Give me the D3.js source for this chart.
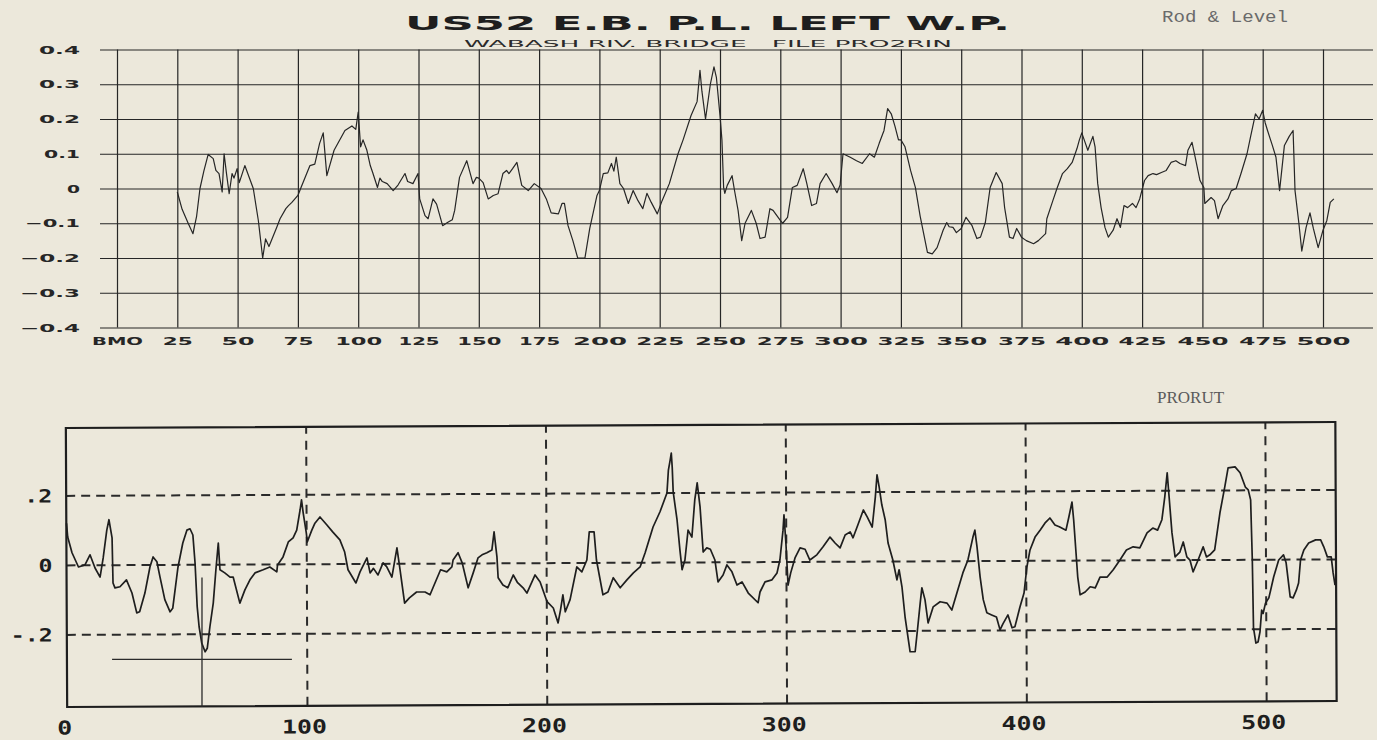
<!DOCTYPE html>
<html><head><meta charset="utf-8">
<script src="https://cdn.jsdelivr.net/npm/d3@7"></script>
<style>
html,body{margin:0;padding:0;background:#ece8db;}
svg{display:block;}
</style></head><body>
<svg id="c" width="1377" height="740"></svg>
<script>
// ---------- DATA ----------
const titleText = "US52 E.B. P.L. LEFT W.P.";
const subtitleText = "WABASH RIV. BRIDGE   FILE PRO2RIN";
const topSeriesName = "Rod & Level";
const botSeriesName = "PRORUT";

const topTicksX = [0,25,50,75,100,125,150,175,200,225,250,275,300,325,350,375,400,425,450,475,500];
const topTickLabelsX = ["BMO","25","50","75","100","125","150","175","200","225","250","275","300","325","350","375","400","425","450","475","500"];
const topTicksY = [0.4,0.3,0.2,0.1,0,-0.1,-0.2,-0.3,-0.4];
const topTickLabelsY = ["0.4","0.3","0.2","0.1","0","\u22120.1","\u22120.2","\u22120.3","\u22120.4"];

const botTicksX = [0,100,200,300,400,500];
const botTickLabelsX = ["0","100","200","300","400","500"];
const botTicksY = [0.2,0,-0.2];
const botTickLabelsY = [".2","0","-.2"];

// Rod & Level profile: [station, elevation]
const rodLevel = [
[25,-0.01],[27,-0.06],[29.5,-0.1],[31.5,-0.13],[33,-0.08],[34.4,0],[36,0.05],[37.8,0.098],[39.9,0.086],[41,0.052],[42.3,0.043],[43.6,-0.01],[44.4,0.1],[45.4,0.043],[46.5,-0.015],[47.7,0.043],[48.5,0.03],[49.8,0.057],[50.7,0.017],[53,0.066],[56.5,0],[58.6,-0.092],[60.4,-0.2],[61.6,-0.145],[63,-0.167],[66.2,-0.112],[67.6,-0.087],[70,-0.058],[71,-0.05],[72.5,-0.04],[75,-0.02],[76.3,0.003],[80,0.066],[82,0.07],[84,0.13],[85.5,0.16],[87,0.037],[90,0.11],[94.5,0.167],[97.4,0.18],[99,0.17],[100,0.22],[101,0.12],[102,0.14],[103.6,0.11],[105,0.066],[106,0.046],[108,0.003],[109,0.03],[110,0.02],[112,0.014],[114.5,-0.006],[116.5,0.01],[119.4,0.043],[120.5,0.02],[122.7,0.014],[124.8,0.043],[125.5,-0.03],[127.7,-0.078],[129,-0.087],[131,-0.03],[132.5,-0.045],[135,-0.107],[137,-0.098],[139,-0.09],[140,-0.063],[142,0.032],[145,0.08],[147.6,0.014],[149,0.032],[150,0.03],[151.8,0.017],[153.9,-0.03],[156,-0.02],[158,-0.015],[160,0.043],[161.5,0.052],[162.5,0.043],[164,0.057],[165.8,0.075],[167.8,0.009],[170.5,-0.006],[173,0.014],
[175.8,0],[178,-0.03],[180,-0.07],[183,-0.073],[184.5,-0.043],[185.5,-0.043],[187,-0.107],[189,-0.15],[191,-0.2],[194,-0.2],[196,-0.115],[199,-0.02],[200,-0.006],[201.6,0.043],[203.5,0.045],[205,0.072],[206,0.05],[207,0.09],[208.5,0.014],[210,0],[212,-0.043],[214,-0.006],[216,-0.035],[218,-0.058],[219.7,-0.014],[221.5,-0.04],[224,-0.073],[226,-0.035],[229,0.014],[232.6,0.1],[234.7,0.14],[238,0.21],[240.5,0.25],[241.7,0.34],[242.5,0.28],[244,0.2],[246,0.3],[247.5,0.35],[248.5,0.32],[250,0.21],[250.8,0.14],[251.5,0.003],[252,-0.014],[253,0.009],[255,0.037],[256,-0.005],[257.5,-0.063],[259,-0.15],[260.4,-0.1],[263,-0.063],[265,-0.1],[266.6,-0.144],[268.7,-0.14],[270.7,-0.058],[272,-0.063],[275,-0.092],[276,-0.1],[278,-0.083],[280,0.003],[282,0.009],[284.5,0.057],[286,0.014],[288,-0.049],[290,-0.043],[291.5,0.014],[294,0.043],[296.5,0.014],[298.5,-0.012],[299.8,0.01],[301,0.1],[304,0.09],[306.6,0.08],[309,0.072],[312,0.1],[314,0.09],[316,0.13],[318,0.167],[319.5,0.23],[321,0.215],[322.5,0.18],[324,0.14],[325,0.14],[326.7,0.12],[329,0.052],[331,0.003],[333,-0.08],[336,-0.184],[338,-0.188],[340,-0.17],[342.5,-0.12],[344,-0.098],[345,-0.11],[346.6,-0.112],[348,-0.127],[350,-0.115],[352,-0.083],[354.5,-0.107],[356.5,-0.144],[358,-0.14],[360,-0.098],[362,0.003],[364.5,0.046],[367,0.014],[368,-0.055],[370,-0.14],[371.5,-0.144],[373,-0.115],[375,-0.14],[377,-0.15],[380,-0.159],[382,-0.15],[385,-0.13],[385.5,-0.087],[388,-0.035],[389.7,0],[392,0.043],[394,0.057],[396,0.075],[398,0.115],[399,0.14],[400,0.16],[401,0.14],[402.5,0.11],[404.6,0.15],[405.5,0.12],[406.6,0.014],[408,-0.055],[409.6,-0.112],[411,-0.14],[413,-0.12],[414.6,-0.087],[416,-0.112],[417.5,-0.049],[419,-0.055],[421,-0.043],[422.5,-0.055],[424,-0.03],[426,0.023],[427.5,0.037],[429.5,0.043],[431,0.04],[433,0.046],[435,0.052],[437,0.075],[439,0.08],[440.7,0.072],[443,0.066],[444,0.11],[445.7,0.133],[447,0.09],[449,0.023],[450.6,0.003],[451,-0.043],[453.6,-0.026],[455,-0.035],[456.5,-0.087],[458.5,-0.049],[460.6,-0.03],[462,-0.006],[464,0],[466,0.043],[468.5,0.1],[470,0.15],[472,0.215],[473.5,0.2],[475,0.225],[476,0.19],[477,0.167],[479,0.124],[480.5,0.09],[482,-0.006],[484,0.124],[486,0.15],[487.6,0.167],[488.4,-0.006],[490,-0.1],[491.2,-0.18],[493,-0.112],[494.6,-0.07],[496,-0.115],[498,-0.17],[500,-0.12],[501.6,-0.092],[503,-0.04],[504.5,-0.03]
];

// PRORUT profile: [distance, elevation]
const prorut = [
[0,0.12],[0.5,0.08],[2.3,0.035],[5,-0.006],[7.7,0],[9.8,0.029],[11.9,-0.009],[14,-0.035],[15.3,0.02],[16.8,0.1],[17.7,0.13],[19,0.078],[19.4,-0.052],[20.2,-0.066],[22.3,-0.063],[25,-0.043],[27.3,-0.081],[29.3,-0.138],[30.5,-0.135],[32.7,-0.081],[34.8,-0.006],[36.1,0.023],[37.7,0.009],[39,-0.035],[41,-0.1],[43.2,-0.135],[44.3,-0.125],[46.5,-0.006],[48.5,0.063],[50.2,0.1],[51.5,0.104],[52.7,0.086],[53.6,0.006],[54.5,-0.12],[55.3,-0.178],[56.4,-0.225],[57.8,-0.25],[58.7,-0.24],[59.8,-0.178],[61.2,-0.11],[62.3,-0.014],[63.3,0.063],[64,-0.014],[66,-0.023],[68.2,-0.035],[69.5,-0.035],[72.3,-0.11],[74.4,-0.072],[76.5,-0.043],[78.6,-0.023],[82,-0.014],[84.8,-0.006],[87.7,-0.02],[88,0],[90.3,0.023],[92.5,0.066],[94.5,0.078],[96,0.1],[97.4,0.158],[98,0.187],[98.7,0.15],[100,0.092],[100.4,0.066],[102.3,0.1],[103.6,0.12],[105.7,0.138],[108.6,0.115],[111,0.095],[114,0.072],[116,0.037],[117.4,-0.014],[120.7,-0.052],[122.4,-0.02],[125.3,0.02],[126.6,-0.023],[128,-0.01],[129.9,-0.029],[132,0.006],[133.5,-0.005],[135.7,-0.035],[137.8,0.049],[139,-0.009],[141,-0.11],[143,-0.095],[146,-0.078],[149.5,-0.078],[151.6,-0.086],[153,-0.063],[156,-0.014],[158.6,-0.02],[160.7,-0.006],[161.2,0.014],[163.3,0.035],[165,0.006],[167.5,-0.066],[169.6,-0.023],[171.6,0.02],[173.3,0.029],[175.3,0.035],[177.4,0.043],[178.3,0.095],[179.5,0.023],[180,-0.037],[182,-0.058],[184,-0.066],[186.3,-0.029],[188,-0.05],[190.4,-0.066],[192,-0.081],[195.4,-0.029],[197.5,-0.049],[200.4,-0.106],[203,-0.124],[205,-0.167],[206,-0.13],[207,-0.086],[208,-0.135],[210,-0.1],[212.8,-0.006],[214.9,-0.02],[217,0.014],[218,0.095],[220,0.095],[221,0.014],[223.7,-0.086],[225.8,-0.078],[228,-0.037],[230.9,-0.066],[233.7,-0.043],[236.4,-0.023],[239.2,-0.006],[241.3,0.035],[244.6,0.109],[247.5,0.153],[250.4,0.207],[251,0.273],[251.7,0.3],[252.2,0.322],[252.6,0.28],[253,0.21],[254.6,0.13],[255.8,0.043],[256.7,-0.014],[257.9,0.014],[259.2,0.1],[260.8,0.08],[262,0.187],[263,0.236],[264.2,0.167],[265.5,0.037],[267,0.049],[268.5,0.045],[270.4,0.014],[271.7,-0.049],[273.8,-0.029],[275.4,0],[277.5,-0.02],[279.6,-0.058],[281.7,-0.049],[284.3,-0.081],[288.4,-0.109],[289.2,-0.078],[291.3,-0.049],[294.2,-0.043],[296.3,-0.023],[297.5,0.014],[298.8,0.1],[299.2,0.144],[300,0.063],[300.9,-0.058],[302,-0.023],[303.8,0.02],[305.9,0.049],[308,0.045],[310,0.014],[312.9,0.029],[315.5,0.052],[318.4,0.08],[320.5,0.063],[322.6,0.049],[324.7,0.086],[326.8,0.095],[328,0.078],[330,0.115],[332.3,0.158],[333.9,0.138],[336,0.109],[337.3,0.196],[338,0.259],[338.9,0.224],[340,0.173],[341.4,0.13],[342.6,0.063],[344.6,0.014],[346.3,-0.043],[347.2,-0.014],[348.4,-0.063],[349.7,-0.15],[351.8,-0.25],[353.9,-0.25],[355,-0.178],[356,-0.11],[356.7,-0.066],[358,-0.1],[359.3,-0.167],[361.4,-0.121],[364.3,-0.106],[367.2,-0.11],[369.2,-0.13],[371.3,-0.081],[373.8,-0.023],[375.9,0.014],[378,0.08],[378.8,0.1],[379.7,0.052],[381,-0.035],[382.3,-0.1],[383.8,-0.138],[385.8,-0.144],[387.8,-0.15],[389.3,-0.187],[390.5,-0.17],[392.6,-0.144],[394.3,-0.181],[395.5,-0.178],[397.6,-0.121],[399.3,-0.081],[400.5,-0.006],[401.8,0.043],[403.9,0.08],[406,0.1],[408,0.12],[410.1,0.135],[412.2,0.115],[414,0.11],[416.8,0.1],[418,0.138],[419.3,0.181],[420,0.13],[420.9,0.043],[421.7,-0.035],[422.7,-0.086],[424.8,-0.078],[426.9,-0.063],[429,-0.066],[431,-0.035],[434,-0.035],[436.5,-0.014],[439.3,0.014],[442,0.043],[444.8,0.052],[447.6,0.049],[450.6,0.092],[453,0.106],[455,0.1],[456.8,0.13],[458,0.196],[459,0.265],[459.8,0.196],[461,0.092],[462.3,0.023],[464.3,0.037],[465.7,0.066],[467.2,0.023],[468.5,0.014],[469.8,-0.02],[471.9,0.014],[474,0.052],[475.4,0.023],[476.8,0.029],[478.8,0.043],[481,0.15],[483,0.224],[484.4,0.279],[487.3,0.282],[489.4,0.265],[491.6,0.224],[492.8,0.216],[493.8,0.187],[494.5,0.014],[495,-0.181],[496,-0.225],[496.9,-0.222],[497.7,-0.193],[498.4,-0.13],[499,-0.14],[500,-0.11],[501.4,-0.095],[503.4,-0.035],[505.5,0.014],[507.5,0.029],[508.6,0.006],[510.3,-0.092],[511.5,-0.095],[512.9,-0.072],[513.8,-0.052],[514.6,0.014],[516,0.043],[518,0.063],[520.9,0.072],[523,0.072],[524.3,0.052],[525.8,0.023],[527.4,0.023],[528.2,-0.023],[529,-0.058]
];

// cursor crosshair in the PRORUT plot
const cursorX = 56.5, cursorY = -0.272;
const cursorSpanX = [19, 94];
const cursorTopY = -0.036;

// ---------- DRAW ----------
const svg = d3.select("#c");
const INK = "#262626";

// plotter-style text width estimator
function plotW(s, opt){
  let w = 0;
  for (const ch of s){
    if (ch === "1") w += opt.one;
    else if (ch === ".") w += 3;
    else if (ch === "0" || ch==="O") w += opt.zero;
    else if (ch === "\u2212") w += 11;
    else w += opt.digit;
  }
  return w + opt.gap * (s.length - 1);
}

// ===== TOP CHART =====
const xT = d3.scaleLinear().domain([0,500]).range([117,1323]);
const yT = d3.scaleLinear().domain([-0.4,0.4]).range([327.5,49.5]);
const gT = svg.append("g");

// horizontal grid + y labels
const axYT = gT.append("g").attr("transform","translate(100,0)")
  .call(d3.axisLeft(yT).tickValues(topTicksY).tickSize(-(1373-100)).tickPadding(20)
        .tickFormat((d,i)=>topTickLabelsY[i]));
axYT.select(".domain").remove();
axYT.selectAll("line").attr("stroke",INK).attr("stroke-width",1.2);
axYT.selectAll("text")
  .attr("font-family","DejaVu Sans").attr("font-weight","bold").attr("font-size",10)
  .attr("fill",INK).attr("dy","0.36em")
  .attr("lengthAdjust","spacingAndGlyphs")
  .attr("textLength", d => plotW(topTickLabelsY[topTicksY.indexOf(d)], {one:4, zero:13, digit:9, gap:8}));

// vertical grid + x labels
const axXT = gT.append("g").attr("transform",`translate(0,${yT(-0.4)})`)
  .call(d3.axisBottom(xT).tickValues(topTicksX).tickSize(-(yT(-0.4)-yT(0.4))).tickPadding(10)
        .tickFormat((d,i)=>topTickLabelsX[i]));
axXT.select(".domain").remove();
axXT.selectAll("line").attr("stroke",INK).attr("stroke-width",1.2);
axXT.selectAll("text")
  .attr("font-family","DejaVu Sans").attr("font-weight","bold").attr("font-size",10)
  .attr("fill",INK).attr("dy","0.75em")
  .attr("lengthAdjust","spacingAndGlyphs")
  .attr("textLength", d => plotW(topTickLabelsX[topTicksX.indexOf(d)], {one:5, zero:15, digit:12, gap:6}));

// data line
gT.append("path").datum(rodLevel)
  .attr("fill","none").attr("stroke",INK).attr("stroke-width",1.2).attr("stroke-linejoin","round")
  .attr("d", d3.line().x(d=>xT(d[0])).y(d=>yT(d[1])));

// titles
svg.append("text").attr("x",405).attr("y",30).text(titleText)
  .attr("font-family","DejaVu Sans").attr("font-weight","bold").attr("font-size",19)
  .attr("fill","#1e1e1e").attr("textLength",605).attr("lengthAdjust","spacingAndGlyphs");
svg.append("text").attr("x",464).attr("y",46.5).text(subtitleText)
  .attr("font-family","DejaVu Sans").attr("font-size",9)
  .attr("fill","#2a2a2a").attr("textLength",488).attr("lengthAdjust","spacingAndGlyphs")
  .style("white-space","pre");
svg.append("text").attr("x",1162).attr("y",22).text(topSeriesName)
  .attr("font-family","Liberation Mono").attr("font-size",17)
  .attr("fill","#6a6a6a").attr("textLength",126).attr("lengthAdjust","spacingAndGlyphs")
  .style("white-space","pre");

// ===== BOTTOM CHART =====
const xB = d3.scaleLinear().domain([0,529.4]).range([66.5,1336]);
const yB = d3.scaleLinear().domain([-0.409,0.394]).range([707,428]);
const gB = svg.append("g").attr("transform","rotate(-0.27 66 565)");

// dashed horizontal grid
const axYB = gB.append("g").attr("transform",`translate(${xB(0)},0)`)
  .call(d3.axisLeft(yB).tickValues(botTicksY).tickSize(-(xB(529.4)-xB(0))).tickPadding(14)
        .tickFormat((d,i)=>botTickLabelsY[i]));
axYB.select(".domain").remove();
axYB.selectAll("line").attr("stroke","#2a2a2a").attr("stroke-width",2).attr("stroke-dasharray","9,6");
axYB.selectAll("text")
  .attr("font-family","DejaVu Sans Mono").attr("font-weight","bold").attr("font-size",18)
  .attr("fill","#1e1e1e").attr("dy","0.36em")
  .attr("lengthAdjust","spacingAndGlyphs")
  .attr("textLength", d => 14 * botTickLabelsY[botTicksY.indexOf(d)].length);

// dashed vertical grid
const axXB = gB.append("g").attr("transform",`translate(0,${yB(-0.409)})`)
  .call(d3.axisBottom(xB).tickValues(botTicksX).tickSize(-(yB(-0.409)-yB(0.394))).tickPadding(14)
        .tickFormat((d,i)=>botTickLabelsX[i]));
axXB.select(".domain").remove();
axXB.selectAll("line").attr("stroke","#2a2a2a").attr("stroke-width",2).attr("stroke-dasharray","9,7")
  .filter(d=>d===0).remove();
axXB.selectAll("text")
  .attr("font-family","DejaVu Sans Mono").attr("font-weight","bold").attr("font-size",19)
  .attr("fill","#1e1e1e").attr("dy","0.71em").attr("dx",-3)
  .attr("lengthAdjust","spacingAndGlyphs")
  .attr("textLength", d => 15 * botTickLabelsX[botTicksX.indexOf(d)].length);

// frame
gB.append("rect")
  .attr("x",xB(0)).attr("y",yB(0.394))
  .attr("width",xB(529.4)-xB(0)).attr("height",yB(-0.409)-yB(0.394))
  .attr("fill","none").attr("stroke","#1e1e1e").attr("stroke-width",2.2);

// data line (drawn straight, as read)
svg.append("path").datum(prorut)
  .attr("fill","none").attr("stroke","#1e1e1e").attr("stroke-width",1.7).attr("stroke-linejoin","round")
  .attr("d", d3.line().x(d=>xB(d[0])).y(d=>yB(d[1])));

// cursor
svg.append("line")
  .attr("x1",xB(cursorSpanX[0])).attr("x2",xB(cursorSpanX[1]))
  .attr("y1",yB(cursorY)).attr("y2",yB(cursorY))
  .attr("stroke","#2a2a2a").attr("stroke-width",1.3);
svg.append("line")
  .attr("x1",xB(cursorX)).attr("x2",xB(cursorX))
  .attr("y1",yB(cursorTopY)).attr("y2",yB(-0.409))
  .attr("stroke","#2a2a2a").attr("stroke-width",1.3);

svg.append("text").attr("x",1157).attr("y",403).text(botSeriesName)
  .attr("font-family","Liberation Serif").attr("font-size",17)
  .attr("fill","#5a5a5a");
</script>
</body></html>
